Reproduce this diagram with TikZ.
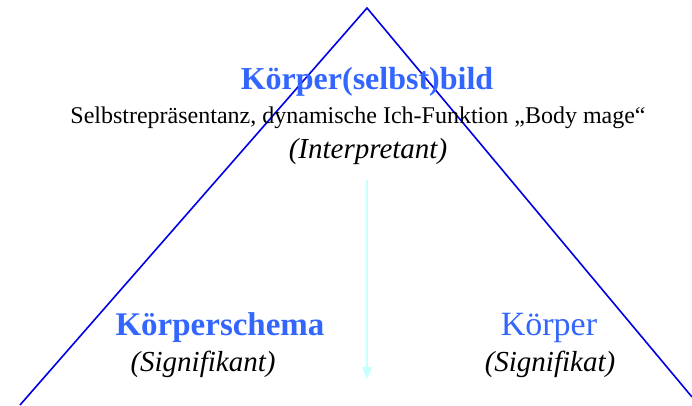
\documentclass[tikz,border=0pt]{standalone}
\usepackage{fontspec}
\setmainfont{Liberation Serif}
\usetikzlibrary{arrows.meta}
\definecolor{titleblue}{RGB}{51,102,255}
\definecolor{lineblue}{RGB}{0,0,230}
\definecolor{arrowcyan}{RGB}{200,255,255}
\begin{document}
\begin{tikzpicture}[x=1pt,y=-1pt,
  title/.style={font=\fontsize{32}{36}\selectfont\bfseries, text=titleblue, inner sep=0pt},
  plain/.style={font=\fontsize{34}{38}\selectfont, text=titleblue, inner sep=0pt},
  sub/.style={font=\fontsize{24}{28}\selectfont, inner sep=0pt},
  role/.style={font=\fontsize{29}{33}\selectfont\itshape, inner sep=0pt}]
\useasboundingbox (0,0) rectangle (692,405);
\coordinate (apex) at (367,8);
\coordinate (bl) at (20,405);
\coordinate (br) at (692,397);
\draw[lineblue, line width=1.6pt] (bl) -- (apex) -- (br);
\node[title] (bild) at (367,82) {Körper(selbst)bild};
\node[sub] (desc) at (358,118) {Selbstrepräsentanz, dynamische Ich-Funktion „Body mage“};
\node[role] (interp) at (368,152) {(Interpretant)};
\node[title, font=\fontsize{33}{37}\selectfont\bfseries] (schema) at (220,328) {Körperschema};
\node[role] (signk) at (203,364) {(Signifikant)};
\node[plain] (koerper) at (549,328) {Körper};
\node[role] (signt) at (550,364) {(Signifikat)};
\coordinate (astart) at (367,180);
\coordinate (aend) at (367,379);
\draw[arrowcyan, line width=2pt, -{Triangle[length=12pt,width=10pt]}] (astart) -- (aend);
\end{tikzpicture}
\end{document}
